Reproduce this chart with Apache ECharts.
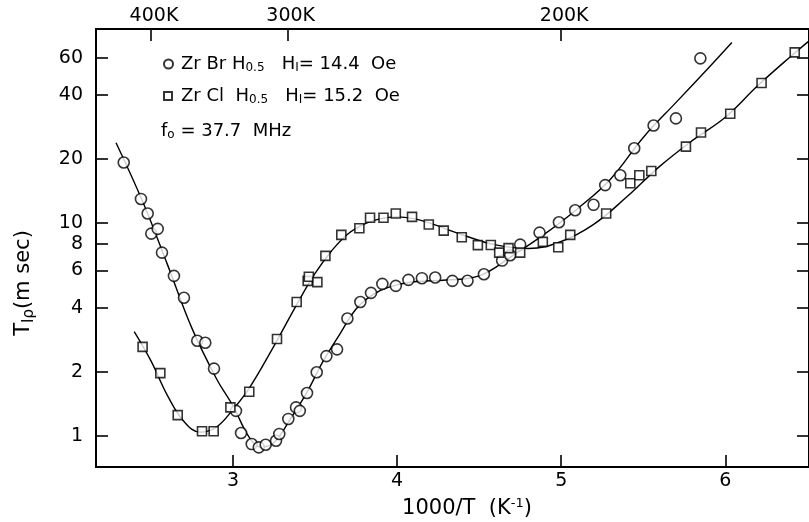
<!DOCTYPE html>
<html><head><meta charset="utf-8">
<script src="https://cdn.jsdelivr.net/npm/echarts@6/dist/echarts.min.js"></script>
<style>html,body{margin:0;padding:0;background:#fff}#c{width:809px;height:522px}</style>
</head><body><div id="c"></div>
<script>
// ZrBrH0.5 measured points (1000/T, T1rho msec)
const brX = [2.334,2.439,2.480,2.502,2.541,2.567,2.640,2.701,2.782,2.831,2.884,3.018,3.049,3.114,3.157,3.199,3.262,3.282,3.337,3.384,3.407,3.451,3.510,3.569,3.634,3.697,3.776,3.841,3.910,3.992,4.069,4.151,4.232,4.337,4.429,4.529,4.640,4.689,4.750,4.868,4.986,5.085,5.197,5.268,5.360,5.445,5.563,5.699,5.848];
const brY = [19.3,13.0,11.1,8.93,9.40,7.27,5.65,4.46,2.80,2.74,2.07,1.31,1.03,0.914,0.882,0.907,0.947,1.02,1.20,1.36,1.31,1.59,1.99,2.37,2.55,3.56,4.26,4.70,5.18,5.07,5.41,5.51,5.55,5.35,5.36,5.75,6.67,7.07,7.93,9.03,10.1,11.5,12.2,15.1,16.8,22.5,28.8,31.1,59.6];
// ZrClH0.5 measured points
const clX = [2.449,2.557,2.663,2.811,2.882,2.984,3.099,3.268,3.388,3.455,3.462,3.514,3.563,3.660,3.770,3.835,3.917,3.992,4.091,4.193,4.284,4.394,4.492,4.571,4.622,4.679,4.750,4.888,4.982,5.055,5.274,5.421,5.476,5.549,5.760,5.852,6.030,6.221,6.423];
const clY = [2.62,1.97,1.25,1.05,1.05,1.36,1.61,2.85,4.26,5.35,5.6,5.28,7.02,8.81,9.47,10.6,10.6,11.1,10.7,9.85,9.22,8.59,7.88,7.90,7.27,7.63,7.27,8.17,7.71,8.81,11.1,15.4,16.8,17.6,22.9,26.7,32.7,45.6,63.6];
// fitted curves
const brFitX = [2.287,2.45,2.6,2.75,2.9,3.0,3.1,3.17,3.25,3.35,3.45,3.55,3.65,3.75,3.85,3.95,4.1,4.3,4.5,4.7,4.9,5.1,5.3,5.5,5.7,5.9,6.04];
const brFitY = [23.9,12.6,6.4,3.2,1.85,1.38,0.98,0.885,0.93,1.2,1.6,2.25,3.0,3.95,4.6,5.0,5.3,5.4,5.65,7.0,8.9,11.7,16.1,25.3,37,54,70.8];
const clFitX = [2.398,2.5,2.6,2.7,2.8,2.9,3.0,3.1,3.25,3.4,3.5,3.6,3.7,3.8,3.9,4.0,4.1,4.2,4.4,4.6,4.8,5.0,5.2,5.4,5.6,5.8,6.0,6.2,6.4,6.52];
const clFitY = [3.09,2.25,1.55,1.17,1.04,1.1,1.33,1.68,2.65,4.3,5.8,7.4,8.9,9.9,10.5,10.7,10.5,10.0,8.8,7.9,7.6,8.2,9.9,13.3,18.5,24.5,31.5,44.5,61,73];
// tick labels
const xTicks = [3,4,5,6];
const topTempTicks = [400,300,200];
const yTicks = [1,2,4,6,8,10,20,40,60];

const FONT = 'DejaVu Sans';
const zip = (a,b)=>a.map((v,i)=>[v,b[i]]);
const xmin = 2.165, xmax = 6.51, ymin = 0.713, ymax = 81.9;
const topVals = topTempTicks.map(t=>1000/t);

const chart = echarts.init(document.getElementById('c'), null, {renderer:'canvas'});
const axisLineStyle = {color:'#000', width:2};
const tickStyle = {color:'#000', width:1.6};
const legRich = {a:{fontFamily:FONT,fontSize:18,color:'#000'},s:{fontFamily:FONT,fontSize:12,color:'#000',verticalAlign:'bottom',padding:[8,0,0,0]}};
chart.setOption({
  animation:false,
  backgroundColor:'#fff',
  grid:{left:96, right:-2, top:29, bottom:55},
  xAxis:[{
    type:'value', min:xmin, max:xmax, position:'bottom',
    axisLine:{lineStyle:axisLineStyle},
    axisTick:{inside:true, length:12, customValues:xTicks, lineStyle:tickStyle},
    axisLabel:{customValues:xTicks, color:'#000', fontFamily:FONT, fontSize:19, margin:5},
    splitLine:{show:false}
  },{
    type:'value', min:xmin, max:xmax, position:'top',
    axisLine:{lineStyle:axisLineStyle},
    axisTick:{inside:true, length:12, customValues:topVals, lineStyle:tickStyle},
    axisLabel:{customValues:topVals, color:'#000', fontFamily:FONT, fontSize:19, margin:3, padding:[0,0,0,6],
      formatter:v=>Math.round(1000/v)+'K'},
    splitLine:{show:false}
  }],
  yAxis:[{
    type:'log', logBase:10, min:ymin, max:ymax, position:'left',
    axisLine:{show:true, lineStyle:axisLineStyle},
    axisTick:{show:true, inside:true, length:12, customValues:yTicks, lineStyle:tickStyle},
    axisLabel:{customValues:yTicks, color:'#000', fontFamily:FONT, fontSize:19, margin:13},
    splitLine:{show:false}, minorTick:{show:false}
  },{
    type:'log', logBase:10, min:ymin, max:ymax, position:'right',
    axisLine:{show:true, lineStyle:axisLineStyle},
    axisTick:{show:true, inside:true, length:12, customValues:yTicks, lineStyle:tickStyle},
    axisLabel:{show:false},
    splitLine:{show:false}
  }],
  legend:[{
    left:158, top:50, orient:'vertical', itemWidth:9, itemHeight:9, itemGap:0,
    data:[{name:'ZrBr', icon:'circle'}],
    formatter:()=>'{a|Zr Br H}{s|0.5}{a|   H}{s|I}{a|= 14.4  Oe}',
    textStyle:{padding:[0,0,0,3], rich:legRich}
  },{
    left:158, top:82, orient:'vertical', itemWidth:8, itemHeight:8, itemGap:0,
    data:[{name:'ZrCl', icon:'rect'}],
    formatter:()=>'{a|Zr Cl  H}{s|0.5}{a|   H}{s|I}{a|= 15.2  Oe}',
    textStyle:{padding:[0,0,0,4], rich:legRich}
  }],
  graphic:[{
    type:'text', left:161, top:122,
    style:{text:'{a|f}{s|o}{a| = 37.7  MHz}', rich:{a:{fontFamily:FONT,fontSize:18,fill:'#000'},s:{fontFamily:FONT,fontSize:12,fill:'#000',verticalAlign:'bottom',padding:[8,0,0,0]}}}
  },{
    type:'text', x:467, y:509,
    style:{text:'{a|1000/T  (K}{s|-1}{a|)}', align:'center', verticalAlign:'middle',
      rich:{a:{fontFamily:FONT,fontSize:21,fill:'#000'},s:{fontFamily:FONT,fontSize:13,fill:'#000',verticalAlign:'top',padding:[0,0,10,0]}}}
  },{
    type:'text', x:24, y:283, rotation:Math.PI/2,
    style:{text:'{a|T}{s|Iρ}{a|(m sec)}', align:'center', verticalAlign:'middle',
      rich:{a:{fontFamily:FONT,fontSize:21,fill:'#000'},s:{fontFamily:FONT,fontSize:15,fill:'#000',verticalAlign:'bottom',padding:[10,0,0,0]}}}
  }],
  series:[
    {name:'ZrBrFit', type:'line', data:zip(brFitX,brFitY), smooth:0.4, showSymbol:false, silent:true,
      lineStyle:{color:'#000', width:1.4}, z:2},
    {name:'ZrClFit', type:'line', data:zip(clFitX,clFitY), smooth:0.4, showSymbol:false, silent:true,
      lineStyle:{color:'#000', width:1.4}, z:2},
    {name:'ZrBr', type:'scatter', data:zip(brX,brY), symbol:'circle', symbolSize:11,
      itemStyle:{color:'#fff', borderColor:'#000', borderWidth:1.6}, z:3},
    {name:'ZrCl', type:'scatter', data:zip(clX,clY), symbol:'rect', symbolSize:9,
      itemStyle:{color:'#fff', borderColor:'#000', borderWidth:1.6}, z:3}
  ]
});
</script></body></html>
